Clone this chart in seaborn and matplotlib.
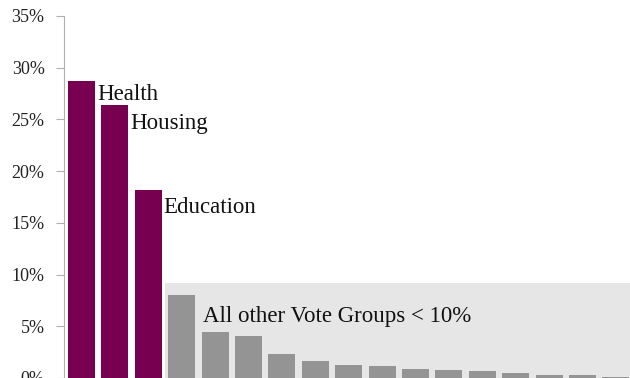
import matplotlib
matplotlib.use("Agg")
import matplotlib.pyplot as plt
import seaborn as sns
import pandas as pd
from matplotlib.ticker import FuncFormatter

# Share of spending by vote group (%), sorted largest to smallest
groups = ["Health", "Housing", "Education", "G4", "G5", "G6", "G7", "G8", "G9",
          "G10", "G11", "G12", "G13", "G14", "G15", "G16", "G17"]
shares = [28.7, 26.4, 18.2, 8.0, 4.4, 4.1, 2.3, 1.6, 1.22, 1.13, 0.87, 0.77,
          0.65, 0.48, 0.29, 0.29, 0.13]
highlighted = ["Health", "Housing", "Education"]
other_label = "All other Vote Groups < 10%"
y_ticks = [0, 5, 10, 15, 20, 25, 30, 35]

PURPLE = "#780050"
GREY = "#949494"
PANEL = "#e6e6e6"

sns.set_theme(style="white")
plt.rcParams["font.family"] = ["Liberation Serif", "DejaVu Serif"]

df = pd.DataFrame({"group": groups, "share": shares})
df["kind"] = ["top" if g in highlighted else "other" for g in groups]

fig = plt.figure(figsize=(6.3, 3.78), dpi=100)
ax = fig.add_axes([64 / 630, 0.0, 1 - 64 / 630, (378 - 16) / 378])

# light panel behind the small groups
n_top = len(highlighted)
ax.add_patch(plt.Rectangle((n_top - 0.5, 0), len(groups), 9.2,
                           facecolor=PANEL, edgecolor="none", zorder=0))

sns.barplot(data=df, x="group", y="share", hue="kind",
            palette={"top": PURPLE, "other": GREY}, width=0.81,
            saturation=1, dodge=False, legend=False, ax=ax, zorder=2,
            linewidth=0)

ax.set_xlim(-0.524, 16.42)
ax.set_ylim(0, 35)
ax.set_yticks(y_ticks)
ax.yaxis.set_major_formatter(FuncFormatter(lambda v, _: f"{v:.0f}%"))
ax.tick_params(axis="y", labelsize=13, length=6, width=0.8, color="#b0b0b0",
               left=True, pad=8, labelcolor="#222222")
ax.set_xticks([])
ax.set_xlabel("")
ax.set_ylabel("")
for side in ["top", "right", "bottom"]:
    ax.spines[side].set_visible(False)
ax.spines["left"].set_color("#b0b0b0")
ax.spines["left"].set_linewidth(0.8)
ax.set_facecolor("none")

# name labels sit just right of each highlighted bar, below its top
label_drop = [1.8, 2.35, 2.25]
for i, g in enumerate(highlighted):
    ax.text(i + 0.46, shares[i] - label_drop[i], g, fontsize=16.5,
            va="baseline", ha="left", color="#111111", zorder=3)

ax.text(3.64, 5.44, other_label, fontsize=16.5, va="baseline", ha="left",
        color="#111111", zorder=3)

fig.savefig("out.png", dpi=100)
